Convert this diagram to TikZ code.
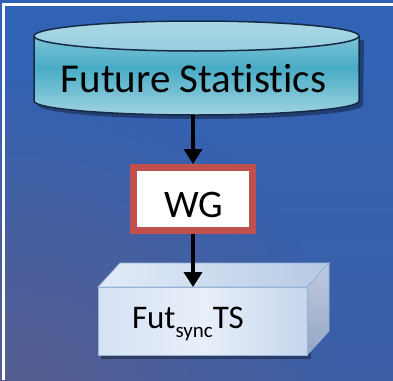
\documentclass[tikz,border=0pt]{standalone}
\usepackage{fontspec}
\setmainfont[Ligatures=NoCommon]{Carlito}
\usetikzlibrary{arrows.meta,fadings}
\definecolor{bgtop}{RGB}{48,99,182}
\definecolor{bgbot}{RGB}{60,94,165}
\definecolor{bgpurple}{RGB}{92,94,142}
\definecolor{cyllight}{RGB}{150,206,222}
\definecolor{cylmid}{RGB}{72,172,198}
\definecolor{cyledge}{RGB}{22,42,72}
\definecolor{wgred}{RGB}{192,80,77}
\definecolor{boxfrontA}{RGB}{212,226,244}
\definecolor{boxfrontB}{RGB}{232,239,249}
\definecolor{boxfrontC}{RGB}{198,214,236}
\definecolor{boxtopA}{RGB}{226,236,248}
\definecolor{boxtopB}{RGB}{182,202,228}
\definecolor{boxsideA}{RGB}{150,166,194}
\definecolor{boxsideB}{RGB}{190,202,224}
\definecolor{boxedge}{RGB}{150,180,215}
\tikzfading[name=cornerglow, inner color=transparent!0, outer color=transparent!100]
\tikzset{
  flow/.style={line width=4pt, -{Triangle[length=15pt,width=18pt]}},
  wgbox/.style={draw=wgred, line width=7pt, fill=white, minimum width=119pt, minimum height=63pt, inner sep=0pt},
  blank/.style={inner sep=0pt, outer sep=0pt},
}
\begin{document}
\begin{tikzpicture}[x=1pt,y=1pt]
\useasboundingbox (0,-380) rectangle (393,0);
% background
\shade[top color=bgtop, bottom color=bgbot] (0,-380) rectangle (393,0);
\begin{scope}
  \clip (0,-380) rectangle (393,0);
  \fill[bgpurple, path fading=cornerglow, opacity=0.85] (-300,-720) rectangle (340,-80);
\end{scope}
% white frame, partly cropped
\draw[white, line width=3pt] (3.5,-380) -- (3.5,-4.5) -- (393,-4.5);

% --- database cylinder ---
\fill[black, opacity=0.35] (38,-40) -- (38,-105) arc[start angle=180,end angle=360,x radius=162.5,y radius=14]
  -- (364,-40) -- cycle;
\shade[top color=cyllight, bottom color=cyllight!90!white, middle color=cylmid]
  (34,-36) -- (34,-101) arc[start angle=180,end angle=360,x radius=162.5,y radius=14]
  -- (359,-36) arc[start angle=0,end angle=180,x radius=162.5,y radius=15] -- cycle;
\draw[cyledge, line width=1.5pt]
  (34,-36) -- (34,-101) arc[start angle=180,end angle=360,x radius=162.5,y radius=14]
  -- (359,-36);
\shade[top color=cyllight!80!white, bottom color=cyllight] (196.5,-36) ellipse[x radius=162.5, y radius=15];
\draw[cyledge, line width=1.5pt] (196.5,-36) ellipse[x radius=162.5, y radius=15];
\node[blank, minimum width=325pt, minimum height=94pt] (fs) at (196.5,-68) {};
\node[blank, anchor=base, font=\fontsize{41}{48}\selectfont] (fslabel) at (193.5,-92) {Future Statistics};

% --- WG box ---
\node[wgbox] (wg) at (193,-199) {};
\node[blank, anchor=base, font=\fontsize{39}{46}\selectfont] (wglabel) at (193.5,-217) {WG};

% --- 3D box ---
\fill[black, opacity=0.35] (101,-290) rectangle (311,-359);
\node[blank, minimum width=209pt, minimum height=68pt] (ts) at (202.5,-321) {};
\shade[left color=boxtopA, right color=boxtopB, draw=boxedge, line width=0.8pt]
  (ts.north west) -- ++(22,24) -- ++(209,0) -- (ts.north east) -- cycle;
\shade[top color=boxsideB, bottom color=boxsideA, draw=boxedge, line width=0.8pt]
  (ts.north east) -- ++(22,24) -- ++(0,-68) -- (ts.south east) -- cycle;
\shade[left color=boxfrontA, right color=boxfrontC, middle color=boxfrontB, draw=boxedge, line width=0.8pt]
  (ts.south west) rectangle (ts.north east);
\node[blank, anchor=base west, font=\fontsize{33}{40}\selectfont] (tslabel) at (132,-328)
  {Fut\raisebox{-9pt}{\fontsize{21}{25}\selectfont sync}TS};

% --- connectors ---
\draw[flow] (wg.north |- fs.south) -- (wg.north);
\draw[flow] (wg.south) -- (wg.south |- ts.north);
\end{tikzpicture}
\end{document}
